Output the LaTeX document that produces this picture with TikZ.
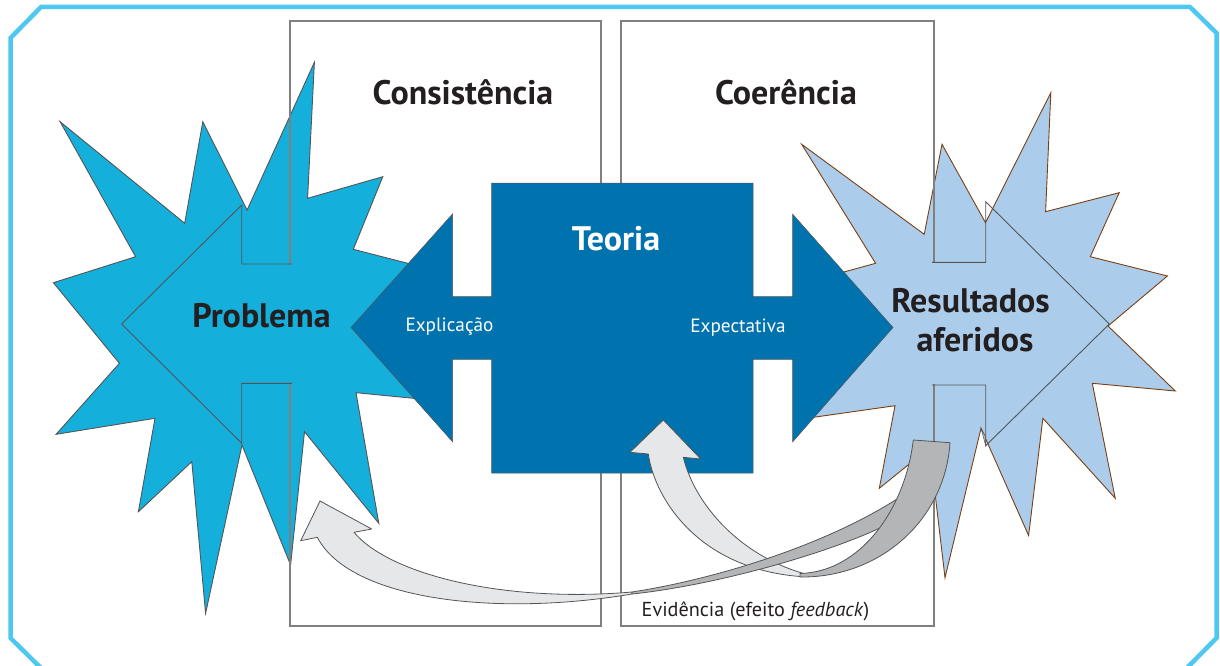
\documentclass[tikz,border=0pt]{standalone}
\usepackage{fontspec}
\setmainfont{PT Sans}
\definecolor{frameC}{RGB}{78,200,240}
\definecolor{probC}{RGB}{21,175,220}
\definecolor{resC}{RGB}{171,205,235}
\definecolor{teoC}{RGB}{0,115,174}
\definecolor{resLine}{RGB}{122,64,20}
\definecolor{edgeC}{RGB}{85,85,85}
\definecolor{boxC}{RGB}{128,128,128}
\definecolor{ribL}{RGB}{230,231,232}
\definecolor{ribD}{RGB}{179,181,183}
\definecolor{txtC}{RGB}{35,31,32}
\tikzset{
  framestyle/.style={draw=frameC,line width=4.5pt,line join=miter},
  starL/.style={fill=probC,draw=edgeC,line width=0.9pt,line join=miter},
  starR/.style={fill=resC,draw=resLine,line width=0.9pt,line join=miter},
  boxline/.style={draw=boxC,line width=1.3pt},
  innerL/.style={draw=edgeC,line width=0.9pt},
  teoria/.style={fill=teoC,draw=edgeC,line width=0.5pt},
  ribbonlight/.style={fill=ribL,draw=edgeC,line width=0.8pt,line join=round},
  ribbondark/.style={fill=ribD,draw=edgeC,line width=0.8pt,line join=round},
  title/.style={inner sep=0pt,anchor=base,text=txtC,font=\fontsize{34}{38}\selectfont\bfseries},
  small/.style={inner sep=0pt,anchor=base,text=white,font=\fontsize{19.2}{22}\selectfont}
}
\begin{document}
\begin{tikzpicture}[x=1pt,y=-1pt]
\useasboundingbox (0,0) rectangle (1220,666);
% frame
\draw[framestyle] (47,674) -- (10.5,638) -- (10.5,38) -- (41,7) -- (1190,7) -- (1216.5,33) -- (1216.5,638) -- (1181,674);
% left star
\path[starL] (314.4,62.3) -- (307.6,198.3) -- (382.8,176.7) -- (353.3,249.3) -- (440,271.6) -- (440,400.9)
  -- (356,392.7) -- (378.8,523.3) -- (304.5,431.7) -- (290.6,565) -- (242,445) -- (205.6,613.3)
  -- (191.8,461.7) -- (138.4,511.7) -- (155,418.3) -- (56.1,434.3) -- (119.4,363.3) -- (53.4,282.7)
  -- (135.6,256.7) -- (60.1,121.7) -- (184.7,223.3) -- (202.8,121.7) -- (247.1,210) -- cycle;
% right star
\path[starR] (801.7,144.3) -- (924.2,234.3) -- (942,144.3) -- (985.5,222.7) -- (1050.8,92.7)
  -- (1045.6,211.7) -- (1119.2,192.7) -- (1090.3,256.7) -- (1167.4,276) -- (1108,326)
  -- (1175.3,391) -- (1092.3,383.3) -- (1115.2,498.3) -- (1042.9,418.3) -- (1028.6,535.5)
  -- (981,428.3) -- (945,577.7) -- (929.6,447.5) -- (879.3,488.3) -- (895,405.7)
  -- (805,418.5) -- (810,281.3) -- (875.6,263.3) -- cycle;
% boxes
\draw[boxline] (290,21) rectangle (601,626);
\draw[boxline] (621,21) rectangle (934,626);
% inner arrows of the stars
\fill[probC] (242.2,264.6) rectangle (296,382.7);
\draw[innerL] (292,264) -- (241.7,264) -- (241.7,205) -- (121.7,324) -- (241.7,443.3) -- (241.7,383.3) -- (292,383.3);
\fill[resC] (929,262.9) rectangle (985.2,384.4);
\draw[innerL] (932,262.3) -- (985.7,262.3) -- (985.7,201.7) -- (1109.3,324) -- (985.7,445.7) -- (985.7,385) -- (932,385);
\path[fill=ribD,draw=edgeC,line width=0.5pt] (981,428.3) -- (985.7,445.7) -- (985.7,437) -- cycle;
% Teoria shape
\path[teoria] (351,327.5) -- (452.5,214) -- (452.5,296.5) -- (491.5,296.5) -- (491.5,183) -- (753,183)
  -- (753,296.5) -- (792.5,296.5) -- (792.5,214) -- (893,327.5) -- (792.5,442) -- (792.5,359.3)
  -- (753,359.3) -- (753,473) -- (491.5,473) -- (491.5,359.3) -- (452.5,359.3) -- (452.5,441.7) -- cycle;
% ribbon A (light, up into Teoria)
\path[ribbonlight] (663.3,420) -- (700.7,459) -- (683.3,457.3) .. controls (695,505) and (740,555) .. (803,573.3)
  -- (803,576.7) .. controls (700,570) and (655,500) .. (648.3,454) -- (630,452.3) -- cycle;
% ribbon B (light, towards Problema)
\path[ribbonlight] (320,501) -- (371.7,529) -- (354,532.3) .. controls (390,575) and (505,603) .. (632,592)
  -- (632,594) .. controls (495,617) and (350,600) .. (317.3,537.3) -- (300.7,540.7) -- cycle;
\path[ribbondark] (632,592) .. controls (710,580) and (820,548) .. (897,499) -- (905,508) -- (880,528)
  .. controls (820,556) and (710,586) .. (632,594) -- cycle;
% ribbon A (dark back)
\path[ribbondark] (913.3,440) -- (950,442.7) .. controls (945,520) and (880,578) .. (800,577)
  -- (800,573.5) .. controls (860,572) and (905,510) .. (913.3,440) -- cycle;
% texts
\node[title] (cons) at (463,105) {Consistência};
\node[title] (coer) at (786,105) {Coerência};
\node[title,text=white] (teo) at (616,250) {Teoria};
\node[title] (prob) at (261.5,327.3) {Problema};
\node[title] (res1) at (970.5,312.7) {Resultados};
\node[title] (res2) at (975,351.7) {aferidos};
\node[small] (expl) at (449.5,331.5) {Explicação};
\node[small] (expe) at (738,332.5) {Expectativa};
\node[small,text=txtC,anchor=base west,font=\fontsize{20.2}{22}\selectfont] (evid) at (641.5,616.7) {Evidência (efeito \textit{feedback})};
\end{tikzpicture}
\end{document}
